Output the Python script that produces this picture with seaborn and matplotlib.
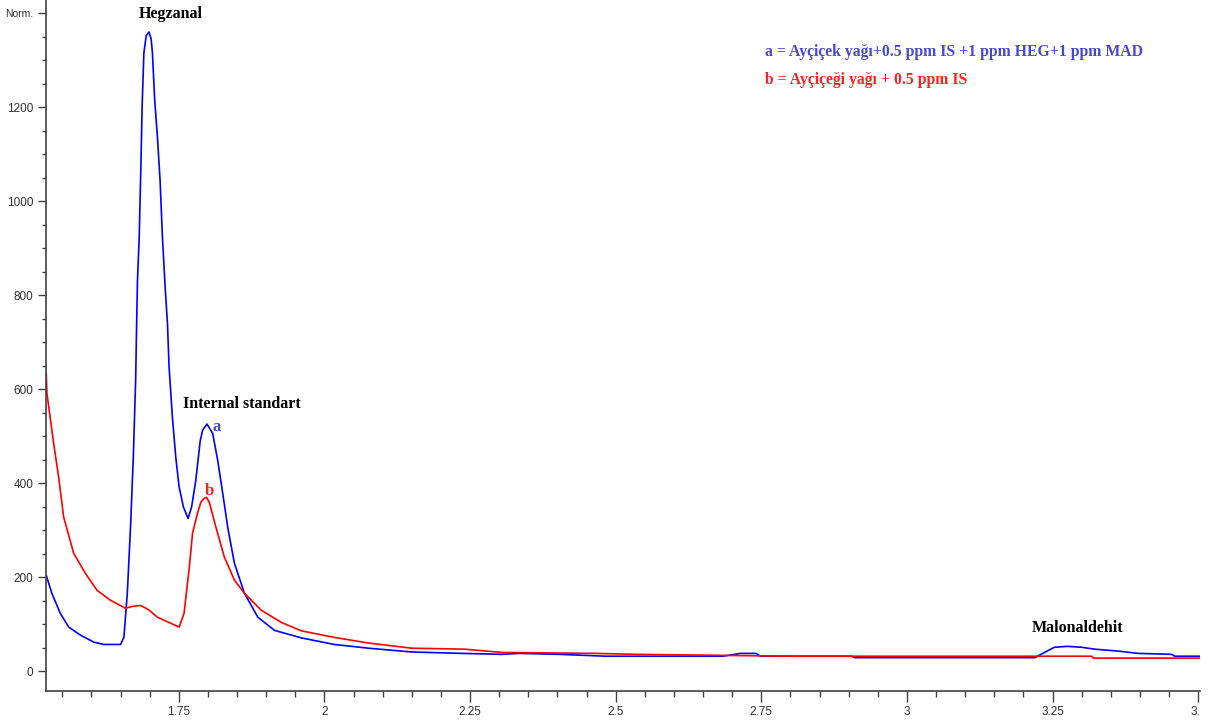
import numpy as np
import pandas as pd
import matplotlib
matplotlib.use("Agg")
import matplotlib.pyplot as plt
from matplotlib.ticker import MultipleLocator, FixedLocator, FixedFormatter
from matplotlib.transforms import Bbox
import seaborn as sns

# ---- data ----
time_a = [1.5224, 1.532, 1.5466, 1.561, 1.581, 1.604, 1.621, 1.650, 1.6557, 1.6616,
          1.6672, 1.672, 1.6759, 1.6776, 1.679, 1.682, 1.685, 1.687, 1.690, 1.694,
          1.6988, 1.7025, 1.7047, 1.7086, 1.7133, 1.7178, 1.7219, 1.7264, 1.7305, 1.7333,
          1.739, 1.7448, 1.7505, 1.758, 1.766, 1.772, 1.779, 1.7867, 1.7909, 1.7983,
          1.8081, 1.8167, 1.8253, 1.834, 1.8454, 1.8626, 1.8856, 1.9143, 1.9603, 2.017,
          2.076, 2.150, 2.236, 2.305, 2.334, 2.403, 2.483, 2.684, 2.714, 2.741,
          2.748, 2.793, 2.905, 2.910, 3.000, 3.100, 3.220, 3.236, 3.253, 3.276,
          3.300, 3.322, 3.362, 3.397, 3.454, 3.460, 3.505]
signal_a = [204, 166, 123, 94, 77, 62, 57, 57, 72, 166,
            310, 460, 620, 740, 830, 923, 1081, 1200, 1315, 1352,
            1360, 1345, 1315, 1215, 1136, 1045, 923, 820, 740, 647,
            540, 455, 392, 349, 325, 350, 405, 490, 513, 526,
            506, 449, 379, 306, 230, 166, 115, 87, 71, 57,
            49, 41, 38, 36, 38, 36, 32, 32, 38, 38,
            32, 32, 32, 29, 29, 29, 29, 40, 51, 53,
            51, 47, 43, 38, 36, 32, 32]

time_b = [1.5224, 1.5236, 1.5351, 1.5437, 1.5523, 1.5695, 1.5897, 1.6098, 1.6328, 1.6586,
          1.670, 1.6845, 1.698, 1.7133, 1.731, 1.7505, 1.759, 1.768, 1.7736, 1.782,
          1.788, 1.7937, 1.7975, 1.8022, 1.8138, 1.8281, 1.8454, 1.8626, 1.8914, 1.9259,
          1.9603, 2.017, 2.076, 2.150, 2.241, 2.305, 2.466, 2.534, 2.805, 3.000,
          3.317, 3.320, 3.505]
signal_b = [634, 591, 485, 413, 328, 251, 208, 172, 151, 134,
            138, 140, 131, 115, 105, 94, 123, 221, 294, 336,
            360, 368, 370, 360, 306, 243, 194, 166, 130, 104,
            86, 72, 60, 49, 47, 40, 38, 36, 32, 32,
            32, 28, 28]

series_names = ["a", "b"]
series_colors = ["#0000ff", "#ff0000"]
legend_lines = ["a = Ayçiçek yağı+0.5 ppm IS +1 ppm HEG+1 ppm MAD",
                "b = Ayçiçeği yağı + 0.5 ppm IS"]
peak_labels = ["Hegzanal", "Internal standart", "Malonaldehit"]
x_ticks = [1.75, 2.0, 2.25, 2.5, 2.75, 3.0, 3.25, 3.5]
x_tick_labels = ["1.75", "2", "2.25", "2.5", "2.75", "3", "3.25", "3.5"]
y_ticks = [0, 200, 400, 600, 800, 1000, 1200, 1400]
y_tick_labels = ["0", "200", "400", "600", "800", "1000", "1200", "Norm."]

df = pd.concat([
    pd.DataFrame({"time": time_a, "signal": signal_a, "series": "a"}),
    pd.DataFrame({"time": time_b, "signal": signal_b, "series": "b"}),
], ignore_index=True)

sns.set_style("ticks")
plt.rcParams["font.family"] = ["Liberation Sans", "DejaVu Sans"]

W, H = 1214, 722
fig = plt.figure(figsize=(W / 100, H / 100), dpi=100)
ax = fig.add_axes([46 / W, 1 - 691 / H, (1200 - 46) / W, 691 / H])

sns.lineplot(data=df, x="time", y="signal", hue="series", hue_order=series_names,
             palette=series_colors, estimator=None, sort=False, linewidth=1.2,
             legend=False, ax=ax)

ax.set_xlim(1.522, 3.503)
ax.set_ylim(-42, 1428)
ax.set_xlabel("")
ax.set_ylabel("")

ax.xaxis.set_major_locator(FixedLocator(x_ticks))
ax.xaxis.set_major_formatter(FixedFormatter(x_tick_labels))
ax.xaxis.set_minor_locator(MultipleLocator(0.05))
ax.yaxis.set_major_locator(FixedLocator(y_ticks))
ax.yaxis.set_major_formatter(FixedFormatter(y_tick_labels))
ax.yaxis.set_minor_locator(MultipleLocator(50))

for s in ["top", "right"]:
    ax.spines[s].set_visible(False)
for s in ["left", "bottom"]:
    ax.spines[s].set_color("#404040")
    ax.spines[s].set_linewidth(1.2)

ax.tick_params(axis="x", which="major", length=8, width=1, color="#404040",
               labelsize=8.5, labelcolor="#303030", pad=3)
ax.tick_params(axis="x", which="minor", length=4, width=1, color="#404040")
ax.tick_params(axis="y", which="major", length=6, width=1, color="#404040",
               labelsize=8.5, labelcolor="#303030", pad=3)
ax.tick_params(axis="y", which="minor", length=3, width=1, color="#404040")

fig.canvas.draw()
for lbl in ax.get_yticklabels():
    if lbl.get_text() == "Norm.":
        lbl.set_fontsize(7.5)
# the reference image cuts the last x label at the right edge
clip = Bbox([[0, 0], [1200, H]])
for lbl in ax.get_xticklabels():
    if lbl.get_text() == "3.5":
        lbl.set_clip_box(clip)
        lbl.set_clip_on(True)

serif = ["Liberation Serif", "DejaVu Serif"]
ax.text(1.736, 1398, peak_labels[0], family=serif, fontweight="bold", fontsize=11.5,
        ha="center", va="center", color="black")
ax.text(1.859, 568, peak_labels[1], family=serif, fontweight="bold", fontsize=11.5,
        ha="center", va="center", color="black")
ax.text(3.293, 91, peak_labels[2], family=serif, fontweight="bold", fontsize=11.5,
        ha="center", va="center", color="black")
ax.text(1.8155, 519, "a", family=serif, fontweight="bold", fontsize=12,
        ha="center", va="center", color="#4646d8")
ax.text(1.802, 383, "b", family=serif, fontweight="bold", fontsize=12,
        ha="center", va="center", color="#ff2020")
ax.text(2.757, 1317, legend_lines[0], family=serif, fontweight="bold", fontsize=11.3,
        ha="left", va="center", color="#4646d8")
ax.text(2.757, 1257, legend_lines[1], family=serif, fontweight="bold", fontsize=11.3,
        ha="left", va="center", color="#ff2020")

fig.savefig("out.png", dpi=100)
